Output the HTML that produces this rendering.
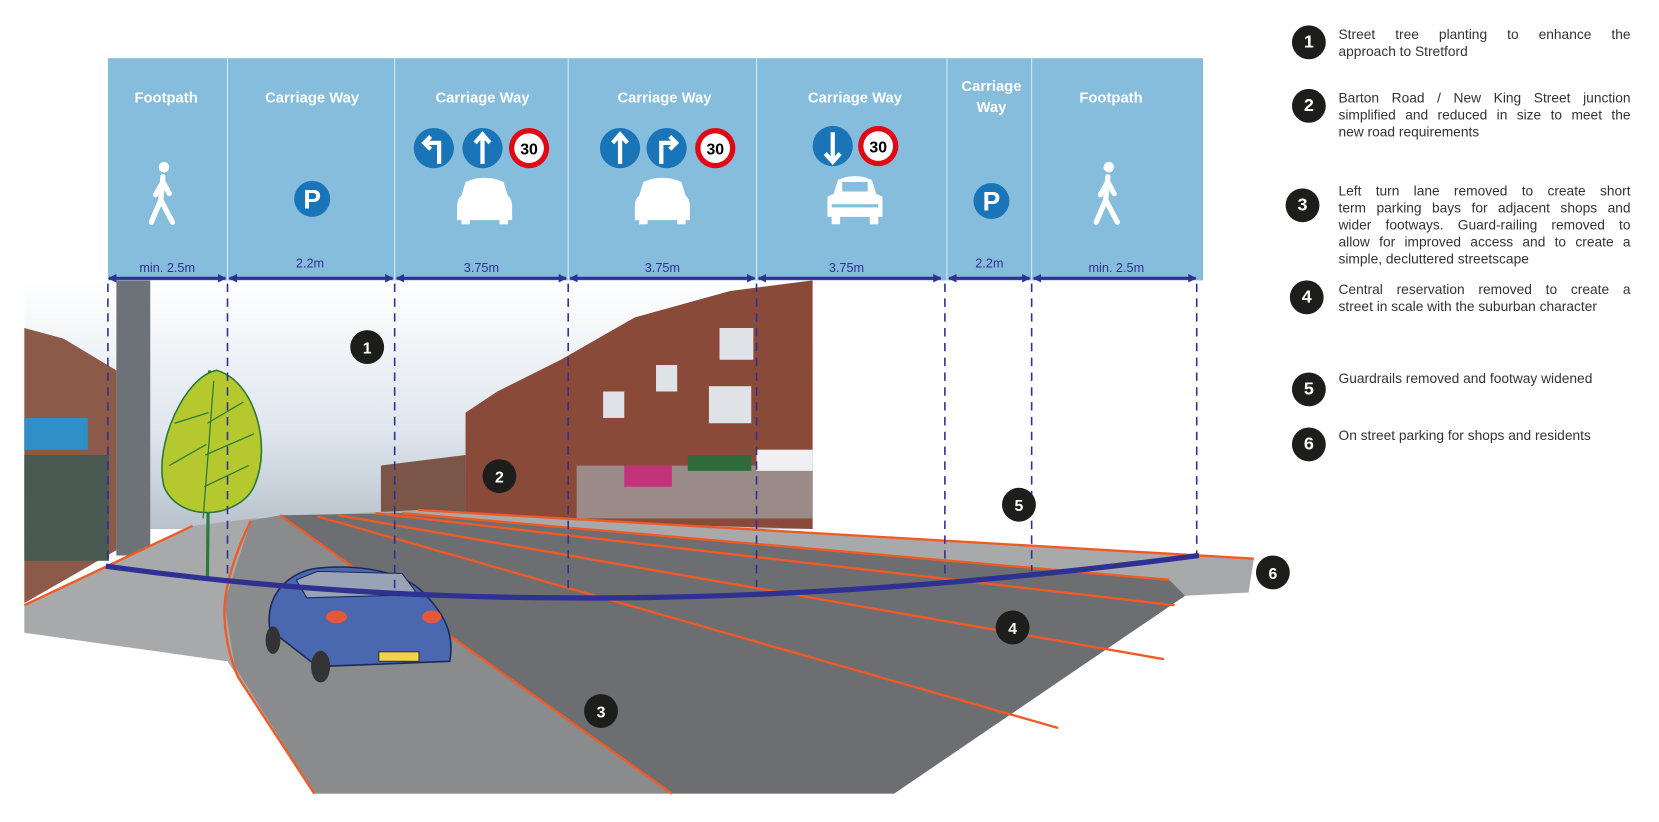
<!DOCTYPE html>
<html><head><meta charset="utf-8"><style>
html,body{margin:0;padding:0;background:#fff;overflow:hidden}
#w{position:absolute;left:0;top:0;width:1568px;height:777px;transform:scale(1.0581);transform-origin:0 0;font-family:"Liberation Sans",sans-serif}
.lg{position:absolute;left:1265px;width:276px;font-size:13px;line-height:16px;color:#333}
.lg div{text-align:justify;text-align-last:justify;white-space:nowrap}
.lg div.l{text-align-last:left}
.n{position:absolute;left:1221px;width:32px;height:32px;border-radius:50%;background:#1d1d1b;color:#fff;font-weight:bold;font-size:17px;line-height:32px;text-align:center}
</style></head><body><div id="w">
<svg width="1568" height="777" viewBox="0 0 1568 777" style="position:absolute;left:0;top:0">
<defs>
<linearGradient id="sky" x1="0" y1="0" x2="0" y2="1"><stop offset="0" stop-color="#ffffff"/><stop offset="0.6" stop-color="#dfe6ee"/><stop offset="1" stop-color="#b9c2cc"/></linearGradient>
<marker id="ar" markerWidth="8" markerHeight="8" refX="7" refY="4" orient="auto-start-reverse" markerUnits="userSpaceOnUse"><path d="M0,0 L8,4 L0,8z" fill="#2e3192"/></marker>
</defs>
<rect x="23" y="265" width="745" height="235" fill="url(#sky)"/>
<polygon points="23,310 60,320 110,350 110,520 23,570" fill="#8b5a48"/>
<rect x="23" y="395" width="60" height="30" fill="#2f8fc7"/>
<rect x="23" y="430" width="80" height="100" fill="#4a5a52"/>
<rect x="110" y="265" width="32" height="260" fill="#6c7278"/>
<polygon points="440,390 470,370 530,340 600,300 690,275 768,265 768,500 440,490" fill="#8a4a3a"/>
<polygon points="360,440 440,430 440,490 360,490" fill="#7a5548"/>
<rect x="545" y="440" width="223" height="50" fill="#9a8a88"/>
<rect x="590" y="440" width="45" height="20" fill="#c2337a"/>
<rect x="715" y="425" width="53" height="20" fill="#f0f0f4"/>
<rect x="650" y="430" width="60" height="15" fill="#2f6a3a"/>
<g fill="#dfe3e8"><rect x="680" y="310" width="32" height="30"/><rect x="620" y="345" width="20" height="25"/><rect x="570" y="370" width="20" height="25"/><rect x="670" y="365" width="40" height="35"/></g>
<polygon points="23,572 182,497 240,490 395,482 1185,528 1180,560 1120,563 845,750 297,750 215,625 23,598" fill="#a8a9ab"/>
<polygon points="237,492 265,487 635,750 297,750 222,630 212,570" fill="#8a8b8d"/>
<polygon points="265,487 380,485 1105,548 1120,563 845,750 635,750" fill="#6d6e71"/>
<g stroke="#f15a24" stroke-width="2.2" fill="none">
<polyline points="23,572 182,497"/>
<path d="M237,492 Q214,540 212,575 Q212,610 225,640 L297,750"/>
<line x1="265" y1="487" x2="635" y2="750"/>
<line x1="300" y1="488" x2="1000" y2="688"/>
<line x1="320" y1="487" x2="1100" y2="623"/>
<line x1="355" y1="485" x2="1110" y2="572"/>
<line x1="380" y1="485" x2="1105" y2="548"/>
<line x1="395" y1="482" x2="1185" y2="528"/>
</g>
<line x1="198" y1="350" x2="196" y2="548" stroke="#2a7a3a" stroke-width="3"/>
<path d="M205,350 C240,360 258,420 240,460 C225,490 170,495 155,460 C145,420 175,355 205,350z" fill="#b5c92f" stroke="#2a7a3a" stroke-width="1.5"/>
<g stroke="#2a7a3a" stroke-width="1.2" fill="none"><path d="M202,360 L192,490"/><path d="M196,400 L230,380 M194,430 L240,410 M193,460 L235,440 M197,390 L165,400 M195,420 L160,440"/></g>
<path d="M255,595 C250,560 275,540 300,537 C340,533 380,540 400,560 C420,580 430,600 425,625 L300,630 Z" fill="#4a68b0" stroke="#1a2a5a" stroke-width="1.5"/>
<path d="M280,548 L300,540 L380,542 L395,562 L290,565 Z" fill="#9aa3b5" stroke="#1a2a5a"/>
<ellipse cx="318" cy="583" rx="10" ry="6" fill="#e8563a"/><ellipse cx="408" cy="583" rx="9" ry="6" fill="#e8563a"/>
<rect x="358" y="616" width="38" height="9" fill="#f4d34a" stroke="#333"/>
<ellipse cx="303" cy="630" rx="9" ry="15" fill="#333"/><ellipse cx="258" cy="605" rx="7" ry="13" fill="#333"/>
<path d="M100,535 Q560,600 1133,525" stroke="#2e3192" stroke-width="5" fill="none"/>
<rect x="102" y="55" width="1035" height="210" fill="#86bcdc"/>
<g stroke="#d8ebf5" stroke-width="1"><line x1="215" y1="55" x2="215" y2="265"/><line x1="373" y1="55" x2="373" y2="265"/><line x1="537" y1="55" x2="537" y2="265"/><line x1="715" y1="55" x2="715" y2="265"/><line x1="895" y1="55" x2="895" y2="265"/><line x1="975" y1="55" x2="975" y2="265"/></g>
<g fill="#fff" font-weight="bold" font-size="14" text-anchor="middle">
<text x="157" y="97">Footpath</text><text x="295" y="97">Carriage Way</text><text x="456" y="97">Carriage Way</text><text x="628" y="97">Carriage Way</text><text x="808" y="97">Carriage Way</text><text x="937" y="86">Carriage</text><text x="937" y="106">Way</text><text x="1050" y="97">Footpath</text>
</g>
<g id="walk" fill="#fff" stroke="#fff" stroke-linecap="round">
<circle cx="155" cy="158" r="5" stroke="none"/>
<path d="M154,167 L152,189 M152,189 L143,210 M152,189 L163,210 M154,172 L147,184 M154,172 L160,183" stroke-width="5" fill="none"/>
</g>
<use href="#walk" transform="translate(893,0)"/>
<circle cx="295" cy="188" r="17" fill="#1a74b8"/><text x="295" y="197" fill="#fff" font-weight="bold" font-size="25" text-anchor="middle">P</text>
<circle cx="937" cy="190" r="17" fill="#1a74b8"/><text x="937" y="199" fill="#fff" font-weight="bold" font-size="25" text-anchor="middle">P</text>
<g font-weight="bold" font-size="15" text-anchor="middle">
<circle cx="410" cy="140" r="19" fill="#1a74b8"/><path d="M415,155 L415,135 L402,135 M407,129 L401,135 L407,141" stroke="#fff" stroke-width="4" fill="none"/>
<circle cx="456" cy="140" r="19" fill="#1a74b8"/><path d="M456,155 L456,128 M449,135 L456,127 L463,135" stroke="#fff" stroke-width="4" fill="none"/>
<circle cx="500" cy="140" r="19" fill="#e30613"/><circle cx="500" cy="140" r="14" fill="#fff"/><text x="500" y="146">30</text>
<circle cx="586" cy="140" r="19" fill="#1a74b8"/><path d="M586,155 L586,128 M579,135 L586,127 L593,135" stroke="#fff" stroke-width="4" fill="none"/>
<circle cx="630" cy="140" r="19" fill="#1a74b8"/><path d="M625,155 L625,135 L638,135 M633,129 L639,135 L633,141" stroke="#fff" stroke-width="4" fill="none"/>
<circle cx="676" cy="140" r="19" fill="#e30613"/><circle cx="676" cy="140" r="14" fill="#fff"/><text x="676" y="146">30</text>
<circle cx="787" cy="138" r="19" fill="#1a74b8"/><path d="M787,125 L787,152 M780,145 L787,153 L794,145" stroke="#fff" stroke-width="4" fill="none"/>
<circle cx="830" cy="138" r="19" fill="#e30613"/><circle cx="830" cy="138" r="14" fill="#fff"/><text x="830" y="144">30</text>
</g>
<g fill="#fff">
<path d="M440,172 Q458,164 476,172 L480,185 Q484,188 484,195 L484,208 L432,208 L432,195 Q432,188 436,185 Z"/><rect x="436" y="206" width="8" height="6"/><rect x="472" y="206" width="8" height="6"/>
<path d="M608,172 Q626,164 644,172 L648,185 Q652,188 652,195 L652,208 L600,208 L600,195 Q600,188 604,185 Z"/><rect x="604" y="206" width="8" height="6"/><rect x="640" y="206" width="8" height="6"/>
<path d="M792,170 Q808,163 824,170 L828,183 L834,186 L834,205 L782,205 L782,186 L788,183 Z"/><rect x="786" y="204" width="8" height="8"/><rect x="822" y="204" width="8" height="8"/>
</g>
<rect x="796" y="172" width="24" height="9" fill="#86bcdc"/><rect x="786" y="193" width="44" height="3" fill="#86bcdc"/>
<g fill="#2e3192" font-size="12" text-anchor="middle">
<text x="158" y="257">min. 2.5m</text><text x="293" y="253">2.2m</text><text x="455" y="257">3.75m</text><text x="626" y="257">3.75m</text><text x="800" y="257">3.75m</text><text x="935" y="253">2.2m</text><text x="1055" y="257">min. 2.5m</text>
</g>
<g stroke="#2e3192" stroke-width="3" marker-start="url(#ar)" marker-end="url(#ar)">
<line x1="103" y1="263" x2="213" y2="263"/><line x1="217" y1="263" x2="371" y2="263"/><line x1="375" y1="263" x2="535" y2="263"/><line x1="539" y1="263" x2="713" y2="263"/><line x1="717" y1="263" x2="889" y2="263"/><line x1="897" y1="263" x2="973" y2="263"/><line x1="977" y1="263" x2="1130" y2="263"/>
</g>
<g stroke="#2e3192" stroke-width="1.5" stroke-dasharray="8,6">
<line x1="102" y1="268" x2="102" y2="535"/><line x1="215" y1="268" x2="215" y2="548"/><line x1="373" y1="268" x2="373" y2="560"/><line x1="537" y1="268" x2="537" y2="560"/><line x1="715" y1="268" x2="715" y2="555"/><line x1="893" y1="268" x2="893" y2="545"/><line x1="975" y1="268" x2="975" y2="540"/><line x1="1131" y1="268" x2="1131" y2="525"/>
</g>
<g font-weight="bold" font-size="15" fill="#fff" text-anchor="middle">
<circle cx="347" cy="328" r="16" fill="#1d1d1b"/><text x="347" y="334">1</text>
<circle cx="472" cy="450" r="16" fill="#1d1d1b"/><text x="472" y="456">2</text>
<circle cx="568" cy="672" r="16" fill="#1d1d1b"/><text x="568" y="678">3</text>
<circle cx="957" cy="593" r="16" fill="#1d1d1b"/><text x="957" y="599">4</text>
<circle cx="963" cy="477" r="16" fill="#1d1d1b"/><text x="963" y="483">5</text>
<circle cx="1203" cy="541" r="16" fill="#1d1d1b"/><text x="1203" y="547">6</text>
</g>
</svg>
<div class="n" style="top:24px">1</div>
<div class="lg" style="top:25px"><div>Street tree planting to enhance the</div><div class="l">approach to Stretford</div></div>
<div class="n" style="top:84px">2</div>
<div class="lg" style="top:85px"><div>Barton Road / New King Street junction</div><div>simplified and reduced in size to meet the</div><div class="l">new road requirements</div></div>
<div class="n" style="top:178px;left:1215px">3</div>
<div class="lg" style="top:173px"><div>Left turn lane removed to create short</div><div>term parking bays for adjacent shops and</div><div>wider footways. Guard-railing removed to</div><div>allow for improved access and to create a</div><div class="l">simple, decluttered streetscape</div></div>
<div class="n" style="top:265px;left:1219px">4</div>
<div class="lg" style="top:266px"><div>Central reservation removed to create a</div><div class="l">street in scale with the suburban character</div></div>
<div class="n" style="top:352px">5</div>
<div class="lg" style="top:350px"><div class="l">Guardrails removed and footway widened</div></div>
<div class="n" style="top:404px">6</div>
<div class="lg" style="top:404px"><div class="l">On street parking for shops and residents</div></div>
</div></body></html>
